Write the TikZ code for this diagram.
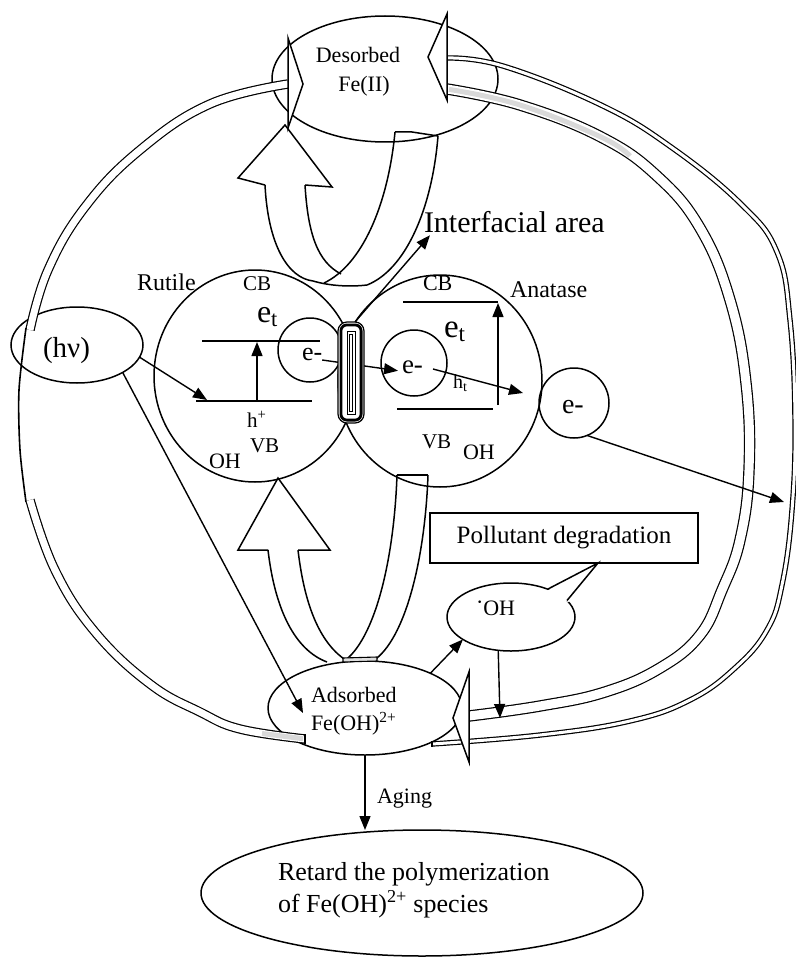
\documentclass[tikz,border=0pt]{standalone}
\usepackage{fontspec}
\setmainfont{Liberation Serif}
\usetikzlibrary{arrows.meta,shapes.geometric,calc}
\begin{document}
\begin{tikzpicture}[x=1pt,y=-1pt,
  lw/.style={line width=1.5pt},
  ell/.style={draw,ellipse,line width=1.5pt,inner sep=0pt,outer sep=0pt},
  circ/.style={draw,circle,line width=1.5pt,inner sep=0pt,outer sep=0pt},
  txt/.style={inner sep=0pt,outer sep=0pt,anchor=base west},
  fs/.style={font=\fontsize{#1}{#1}\selectfont},
  arr/.style={line width=1.4pt,-{Triangle[length=14pt,width=11pt]}},
  band/.style={double,line width=1.2pt},
  head/.style={draw,line width=1.5pt,fill=white,line join=miter},
  ]
\fill[white] (0,0) rectangle (795,960);
\useasboundingbox (0,0) rectangle (795,960);

% ---- main nodes ----
\node[ell, minimum width=226pt, minimum height=126pt] (des) at (385,79) {};
\node[txt,fs=22,anchor=base] (desT1) at (358,63) {Desorbed};
\node[txt,fs=22,anchor=base] (desT2) at (364,92) {Fe(II)};

\node[ell, minimum width=132pt, minimum height=76pt] (hv) at (77,345) {};
\node[txt,fs=29] (hvT) at (43,357) {(hν)};

\node[ell, minimum width=202pt, minimum height=212pt] (rut) at (255,376) {};
\node[ell, minimum width=204pt, minimum height=212pt] (ana) at (440,381) {};
\node[circ, minimum size=64pt] (rutE) at (310,350) {};
\node[circ, minimum size=66pt] (anaE) at (414,363) {};
\node[circ, minimum size=70pt] (outE) at (574,403) {};

\node[txt,fs=24] (rutT) at (137,290) {Rutile};
\node[txt,fs=21] (rutCB) at (243,290) {CB};
\node[txt,fs=32] (rutEt) at (257,322) {e\textsubscript{t}};
\node[txt,fs=26] (rutEm) at (302,360) {e-};
\node[txt,fs=21] (rutH) at (247,427) {h\textsuperscript{+}};
\node[txt,fs=21] (rutVB) at (250,452) {VB};
\node[txt,fs=22] (rutOH) at (209,468) {OH};

\node[txt,fs=22] (anaCB) at (423,290) {CB};
\node[txt,fs=24] (anaT) at (510,297) {Anatase};
\node[txt,fs=33] (anaEt) at (444,337) {e\textsubscript{t}};
\node[txt,fs=27] (anaEm) at (402,373) {e-};
\node[txt,fs=20] (anaHt) at (453,388) {h\textsubscript{t}};
\node[txt,fs=21] (anaVB) at (422,448) {VB};
\node[txt,fs=22] (anaOH) at (463,459) {OH};
\node[txt,fs=28] (outT) at (562,413) {e-};

\node[txt,fs=30] (ia) at (424,232) {Interfacial area};

\node[draw,line width=1.5pt,minimum width=268pt,minimum height=50pt,inner sep=0pt,fs=25] (pol) at (564,538) {Pollutant degradation};

\node[ell, minimum width=128pt, minimum height=68pt] (oh) at (511,617) {};
\node[txt,fs=22] (ohT) at (476,615) {\raisebox{0.5ex}{·}OH};

\node[ell, minimum width=194pt, minimum height=94pt] (ads) at (365,708) {};
\node[txt,fs=22] (adsT1) at (311,702) {Adsorbed};
\node[txt,fs=22] (adsT2) at (311,730) {Fe(OH)\textsuperscript{2+}};

\node[txt,fs=22] (aging) at (377,803) {Aging};
\node[ell, minimum width=442pt, minimum height=126pt] (ret) at (422,893) {};
\node[txt,fs=26] (retT1) at (278,880) {Retard the polymerization};
\node[txt,fs=26] (retT2) at (278,912) {of Fe(OH)\textsuperscript{2+} species};

% ---- callout tail ----
\fill[white] (546.5,591) -- (598,563) -- (568.5,602) -- (556,598) -- cycle;
\draw[lw, line join=miter] (548,589) -- (598,563) -- (567,600.5);

% ---- band levels ----
\draw[lw] (202,341) -- (320,341);
\draw[lw] (196,401) -- (312,401);
\draw[arr] (257,401) -- (257,342);
\draw[lw] (403,302) -- (498,302);
\draw[lw] (397,409) -- (493,409);
\draw[arr] (498,405) -- (498,303);

\coordinate (vbl) at (207,400);
\draw[arr] (hv.349) -- (vbl);
\coordinate (adsIn) at (303,713);
\draw[arr] (hv.329) -- (adsIn);
\coordinate (htTip) at (523,393);
\draw[arr] ([shift={(10,-4)}]anaEm.base east) -- (htTip);
\draw[arr] (rutEm.base east) -- ([xshift=-4pt]anaEm.mid west);

% ---- big hollow arrow bodies ----
\draw[band, double distance=7pt] plot[smooth, tension=0.7] coordinates {(288,84) (210,104) (140,150) (85,207) (48,270) (30,330)};
\draw[line width=1.6pt] plot[smooth] coordinates {(26,328) (19,390) (20,450) (26,502)};
\draw[band, double distance=7pt] plot[smooth, tension=0.7] coordinates {(30,500) (55,570) (95,632) (150,684) (200,712) (240,729) (305,739)};
\draw[gray!30, line width=5pt] (262,733.5) -- (303,738.7);
\draw[line width=1.2pt] (305,734) -- (305,744);

\draw[band, double distance=3pt] plot[smooth, tension=0.7] coordinates {(432,744) (540,735) (630,721) (690,700) (735,668) (767,630) (782,585) (792,510) (795,420) (790,320) (777,252) (741,204) (671,147) (601,105) (503,66) (447,58)};
\draw[line width=1.2pt] (432,741) -- (432,747);

\draw[band, double distance=9pt] plot[smooth, tension=0.7] coordinates {(447,89) (520,105) (601,137) (657,176) (700,228) (730,300) (746,383) (749,470) (740,540) (722,590) (700,635) (660,668) (605,692) (540,706) (469,716)};
\draw[gray!30, line width=5pt] plot[smooth, tension=0.7] coordinates {(449,89.4) (520,105) (601,137) (630,156)};

\draw[head] (288,38) -- (303,84) -- (288,128) -- cycle;
\draw[head] (447,14) -- (428,57) -- (447,100) -- cycle;
\draw[head] (469,672) -- (453,718) -- (469,762) -- cycle;

% ---- upper U arrow ----
\draw[lw, line join=miter] (265,185) -- (238,178) -- (285,125) -- (332,187) -- (305,185);
\draw[lw] (265,185) .. controls (268,245) and (288,278) .. (313,281);
\draw[lw] (313,281) .. controls (330,286) and (350,287) .. (367,285);
\draw[lw] (367,285) .. controls (405,270) and (432,210) .. (438,136);
\draw[lw] (395,132) -- (412,132) -- (438,136);
\draw[lw] (395,132) .. controls (388,205) and (362,265) .. (324,283);
\draw[lw] (305,185) .. controls (308,235) and (318,262) .. (341,274);

% ---- lower U arrow ----
\draw[lw, line join=miter] (268,550) -- (238,550) -- (278,478) -- (330,550) -- (298,550);
\draw[lw] (268,550) .. controls (275,610) and (295,650) .. (327,662);
\draw[lw] (298,550) .. controls (305,610) and (322,645) .. (347,661);
\draw[lw] (397,475) .. controls (394,560) and (375,640) .. (343,662);
\draw[lw] (428,475) .. controls (425,560) and (405,640) .. (373,661);
\draw[lw] (397,475) -- (428,475);
\draw[line width=1.1pt, fill=gray!25] (343,658) -- (377,657) -- (377,661) -- (343,662) -- cycle;

% ---- connectors crossing the bands ----
\coordinate (bandHit) at (784,502);
\draw[arr] (outE.292) -- (bandHit);
\draw[arr] (ads.28) -- (oh.205);
\coordinate (shaftHit) at (500,718);
\draw[arr] (oh.249) -- (shaftHit);
\draw[arr] (ads.south) -- (ads.south |- ret.north);

% ---- interfacial rod ----
\node[draw, line width=1.2pt, rounded corners=9pt, fill=white, minimum width=26pt, minimum height=101pt, inner sep=0pt] (rod) at (351,372.5) {};
\draw[line width=2.8pt, rounded corners=6pt] ($(rod.north west)+(3.5,3.5)$) rectangle ($(rod.south east)+(-3.5,-3.5)$);
\draw[line width=0.7pt] (347,331) rectangle (355,414);
\draw[line width=0.6pt] (349.5,334) rectangle (352.5,411);
\draw[arr] (rod.85) -- ([shift={(6,3)}]ia.south west);
\end{tikzpicture}
\end{document}
